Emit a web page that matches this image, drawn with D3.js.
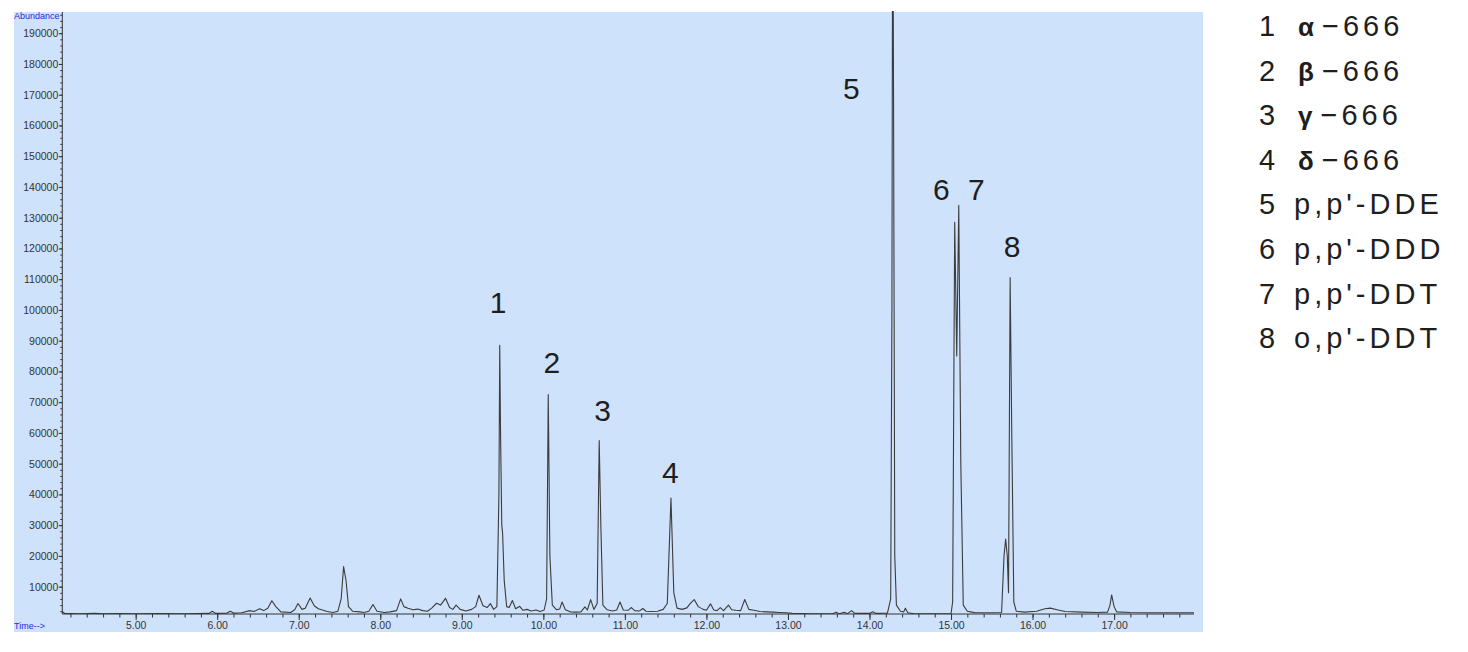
<!DOCTYPE html>
<html><head><meta charset="utf-8">
<script src="https://cdn.jsdelivr.net/npm/d3@7"></script>
<style>html,body{margin:0;padding:0;background:#fff;} svg{display:block;}</style>
</head><body>
<svg id="c" width="1468" height="652"></svg>
<script>
// ---- data (time in min, abundance in counts) ----
const tracePoints = [
 [4.10,1900],[4.13,1300],[4.30,1200],[4.50,1300],[4.60,1200],[4.80,1250],[5.00,1200],[5.30,1250],[5.60,1200],
 [5.90,1300],[5.94,2000],[5.98,1300],[6.12,1400],[6.16,2000],[6.20,1400],[6.30,1500],[6.40,2200],[6.45,1900],
 [6.52,2800],[6.57,2200],[6.62,3000],[6.67,5400],[6.72,3500],[6.78,1800],[6.90,1600],[6.95,2500],[6.99,4500],
 [7.04,2600],[7.08,3000],[7.14,6300],[7.19,3800],[7.24,2800],[7.30,2300],[7.35,1900],[7.42,1600],[7.48,2000],
 [7.52,6000],[7.55,16500],[7.58,12000],[7.61,3500],[7.66,2000],[7.75,1800],[7.80,1600],[7.86,2000],[7.91,4200],
 [7.96,2000],[8.05,1600],[8.12,1800],[8.20,2200],[8.25,6000],[8.29,3500],[8.34,3000],[8.40,2500],[8.46,2700],
 [8.52,2200],[8.58,2000],[8.63,3000],[8.69,4600],[8.74,4000],[8.80,6200],[8.85,3200],[8.89,2600],[8.93,4000],
 [8.98,2600],[9.05,2100],[9.12,2600],[9.17,3500],[9.21,7200],[9.26,3800],[9.31,3200],[9.35,4500],[9.39,2600],
 [9.43,3500],[9.455,40000],[9.465,88500],[9.475,60000],[9.49,30000],[9.50,27500],[9.52,12000],[9.55,3500],
 [9.58,3200],[9.62,5500],[9.66,2800],[9.71,3600],[9.75,2300],[9.80,2600],[9.85,2100],[9.91,2400],[9.96,1900],
 [10.01,2400],[10.04,6000],[10.06,72500],[10.08,20000],[10.11,4000],[10.16,2500],[10.20,2700],[10.23,5000],
 [10.27,2500],[10.33,1800],[10.40,1700],[10.46,1800],[10.51,3400],[10.54,2400],[10.58,5800],[10.62,2600],
 [10.66,4500],[10.685,57500],[10.705,30000],[10.73,4000],[10.78,2500],[10.85,2100],[10.90,2400],[10.94,5000],
 [10.98,2400],[11.04,2300],[11.08,3200],[11.12,2200],[11.18,2100],[11.22,2900],[11.26,2000],[11.32,1900],
 [11.40,2000],[11.47,2600],[11.52,4500],[11.565,38800],[11.60,8000],[11.64,3000],[11.70,2600],[11.76,3100],
 [11.80,4500],[11.85,5800],[11.90,3500],[11.96,2600],[12.00,2300],[12.05,4400],[12.09,2400],[12.13,2200],
 [12.17,3200],[12.21,2200],[12.27,4000],[12.31,2500],[12.36,2300],[12.42,2200],[12.47,5800],[12.52,2600],
 [12.58,2300],[12.66,1900],[12.74,1800],[12.82,1700],[12.90,1600],[12.98,1500],[13.05,1300],[13.30,1200],
 [13.55,1200],[13.59,1700],[13.63,1200],[13.69,1700],[13.73,1200],[13.78,2200],[13.82,1300],[14.00,1300],
 [14.04,1800],[14.08,1300],[14.22,1400],[14.26,6000],[14.275,100000],[14.285,260000],[14.295,168000],
 [14.31,20000],[14.33,4000],[14.38,2000],[14.42,1800],[14.44,3000],[14.47,1500],[14.55,1200],[14.80,1200],
 [15.00,1250],[15.02,5000],[15.045,128500],[15.07,85000],[15.095,134000],[15.12,50000],[15.15,4000],
 [15.20,2000],[15.24,1800],[15.30,1500],[15.50,1500],[15.62,1600],[15.65,20000],[15.67,25500],[15.69,20000],
 [15.705,8000],[15.725,110500],[15.745,60000],[15.77,5000],[15.80,2000],[15.90,1700],[16.05,2000],[16.15,2800],
 [16.22,3000],[16.30,2500],[16.40,1900],[16.60,1700],[16.80,1600],[16.92,1700],[16.95,4000],[16.97,7300],
 [17.00,3500],[17.03,1800],[17.20,1600],[17.50,1500],[17.80,1500],[17.98,1500]
];
const yTickValues = [10000,20000,30000,40000,50000,60000,70000,80000,90000,100000,110000,120000,
  130000,140000,150000,160000,170000,180000,190000];
const xTickTimes = [5,6,7,8,9,10,11,12,13,14,15,16,17];
const xTickLabels = ["5.00","6.00","7.00","8.00","9.00","10.00","11.00","12.00","13.00","14.00","15.00","16.00","17.00"];
const peakLabels = ["1","2","3","4","5","6","7","8"];
const peakLabelTimes = [9.446,10.105,10.728,11.557,13.777,14.88,15.31,15.75];
const peakLabelAbund = [98900,79600,64000,43600,168600,135700,135700,117200];
const legendNumbers = ["1","2","3","4","5","6","7","8"];
const legendGreek = ["\u03b1","\u03b2","\u03b3","\u03b4","","","",""];
const legendNames = ["\u2212666","\u2212666","\u2212666","\u2212666",
  "p,p'-DDE","p,p'-DDD","p,p'-DDT","o,p'-DDT"];
const xDomain = [4.10, 17.98];
const yDomain = [1100, 196900];

// ---- drawing ----
const svg = d3.select("#c");
const panel = {x0:14, x1:1203, y0:12, y1:632};
const plot = {left:62.3, right:1194, top:12, bottom:614};

svg.append("rect").attr("x",panel.x0).attr("y",panel.y0)
  .attr("width",panel.x1-panel.x0).attr("height",panel.y1-panel.y0).attr("fill","#cfe2fb");

const x = d3.scaleLinear().domain(xDomain).range([plot.left, plot.right]);
const y = d3.scaleLinear().domain(yDomain).range([plot.bottom, plot.top]);

svg.append("clipPath").attr("id","clip").append("rect")
  .attr("x",plot.left).attr("y",panel.y0-1).attr("width",plot.right-plot.left+2).attr("height",plot.bottom-panel.y0+1);

const line = d3.line().x(d=>x(d[0])).y(d=>y(d[1]));
svg.append("path").datum(tracePoints).attr("d",line).attr("clip-path","url(#clip)")
  .attr("fill","none").attr("stroke","#3c3c3c").attr("stroke-width",1.1).attr("stroke-linejoin","round");

// y axis
const yMinor = d3.range(2000, 196900, 2000);
const gyMinor = svg.append("g").attr("transform",`translate(${plot.left},0)`)
  .call(d3.axisLeft(y).tickValues(yMinor).tickSize(2).tickFormat(""));
gyMinor.select(".domain").remove();
const gy = svg.append("g").attr("transform",`translate(${plot.left},0)`)
  .call(d3.axisLeft(y).tickValues(yTickValues).tickSize(3.5).tickPadding(0.5).tickFormat(d3.format("d")));
gy.select(".domain").remove();
svg.append("line").attr("x1",plot.left).attr("x2",plot.left).attr("y1",plot.top).attr("y2",plot.bottom)
  .attr("stroke","#333").attr("stroke-width",1);

// x axis
const xMinor = d3.range(4.2, 17.99, 0.2);
const gxMinor = svg.append("g").attr("transform",`translate(0,${plot.bottom})`)
  .call(d3.axisBottom(x).tickValues(xMinor).tickSize(3.5).tickFormat(""));
gxMinor.select(".domain").remove();
const gx = svg.append("g").attr("transform",`translate(0,${plot.bottom})`)
  .call(d3.axisBottom(x).tickValues(xTickTimes).tickSize(6).tickPadding(2).tickFormat((d,i)=>xTickLabels[i]));
gx.select(".domain").remove();
svg.append("line").attr("x1",plot.left).attr("x2",plot.right).attr("y1",plot.bottom).attr("y2",plot.bottom)
  .attr("stroke","#333").attr("stroke-width",1);

svg.selectAll(".tick line").attr("stroke","#333");
svg.selectAll(".tick text").attr("fill","#333").style("font-family","'Liberation Sans', Arial, sans-serif").style("font-size","10.5px");

svg.append("text").attr("x",14).attr("y",19).text("Abundance")
  .style("font-family","'Liberation Sans Narrow','Liberation Sans',Arial,sans-serif").style("font-size","9px").attr("fill","#2b2bd0");
svg.append("text").attr("x",14).attr("y",629).text("Time-->")
  .style("font-family","'Liberation Sans',Arial,sans-serif").style("font-size","9px").attr("fill","#2b2bd0");

// peak labels
svg.append("g").selectAll("text").data(peakLabels).join("text")
  .attr("x",(d,i)=>x(peakLabelTimes[i])).attr("y",(d,i)=>y(peakLabelAbund[i]))
  .attr("text-anchor","middle").text(d=>d)
  .style("font-family","'Liberation Sans',Arial,sans-serif").style("font-size","30px").attr("fill","#1e1e1e");

// legend
const lg = svg.append("g").style("font-family","'Liberation Sans',Arial,sans-serif").style("font-size","29px").attr("fill","#1e1e1e");
lg.selectAll("text.num").data(legendNumbers).join("text").attr("class","num")
  .attr("x",1259).attr("y",(d,i)=>36+i*44.6).text(d=>d);
const names = lg.selectAll("text.name").data(legendNames).join("text").attr("class","name")
  .attr("x",(d,i)=>legendGreek[i]?1298:1294).attr("y",(d,i)=>36+i*44.6).style("letter-spacing","4px");
names.append("tspan").text((d,i)=>legendGreek[i]).style("font-weight","bold").style("font-size","26px");
names.append("tspan").attr("dx",(d,i)=>legendGreek[i]?4:0).text(d=>d);
</script>
</body></html>
